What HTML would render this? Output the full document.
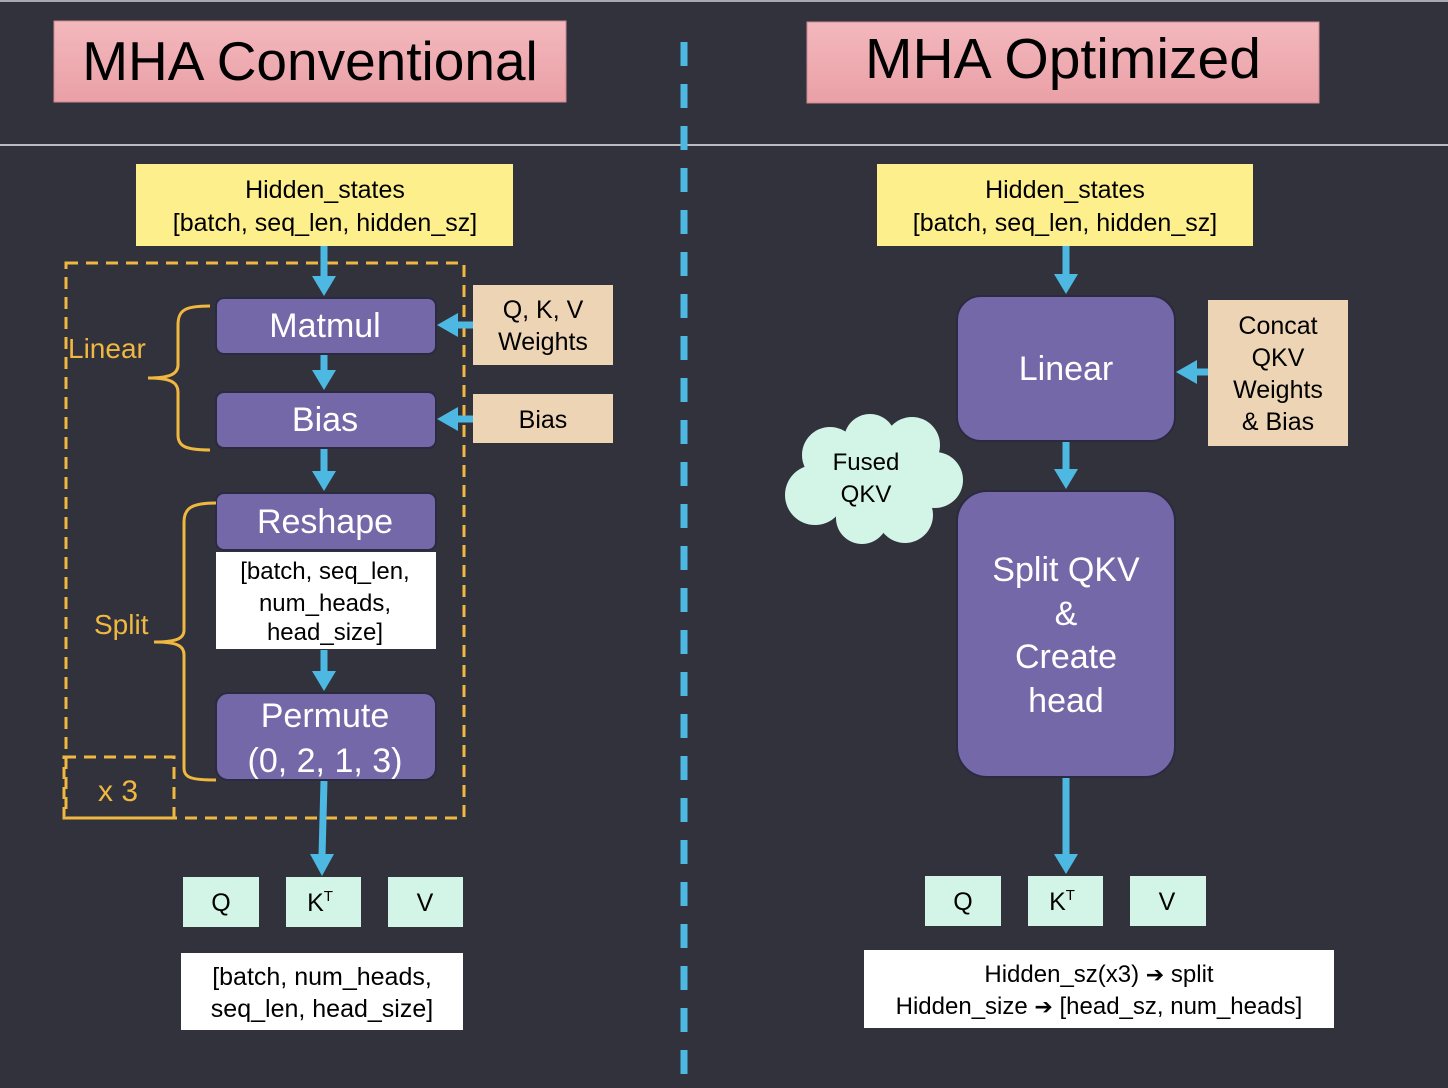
<!DOCTYPE html>
<html><head><meta charset="utf-8"><style>
html,body{margin:0;padding:0;background:#32323c;}
svg{display:block;}
text{font-family:"Liberation Sans",Arial,sans-serif;}
</style></head><body>
<svg width="1448" height="1088" viewBox="0 0 1448 1088" xmlns="http://www.w3.org/2000/svg">
<defs>
<linearGradient id="pk" x1="0" y1="0" x2="0" y2="1"><stop offset="0" stop-color="#f3b8bd"/><stop offset="1" stop-color="#e9a0a6"/></linearGradient>
</defs>
<rect width="1448" height="1088" fill="#32323c"/>
<line x1="0" y1="1" x2="1448" y2="1" stroke="#cfcfd4" stroke-width="1.5"/>
<line x1="0" y1="145" x2="1448" y2="145" stroke="#e8e8ec" stroke-width="1.5"/>
<line x1="684" y1="42" x2="684" y2="1088" stroke="#4db8e2" stroke-width="7" stroke-dasharray="24 18"/>

<!-- titles -->
<rect x="54" y="21" width="512" height="81" fill="url(#pk)" stroke="#c98a90"/>
<text x="310" y="80" font-size="55" text-anchor="middle" fill="#000">MHA Conventional</text>
<rect x="807" y="22" width="512" height="81" fill="url(#pk)" stroke="#c98a90"/>
<text x="1063" y="78" font-size="57" text-anchor="middle" fill="#000">MHA Optimized</text>

<!-- LEFT -->
<rect x="136" y="164" width="377" height="82" fill="#fdef8c"/>
<text x="325" y="198" font-size="25" text-anchor="middle">Hidden_states</text>
<text x="325" y="231" font-size="25" text-anchor="middle">[batch, seq_len, hidden_sz]</text>

<rect x="66" y="263" width="398" height="555" fill="none" stroke="#f0b840" stroke-width="3" stroke-dasharray="12 8"/>
<rect x="64" y="757" width="110" height="61" fill="none" stroke="#f0b840" stroke-width="3" stroke-dasharray="12 8"/>
<text x="118" y="801" font-size="30" text-anchor="middle" fill="#f0b840">x 3</text>

<g stroke="#4db8e2" stroke-width="7" fill="none">
<line x1="324" y1="246" x2="324" y2="278"/>
<line x1="324" y1="355" x2="324" y2="372"/>
<line x1="324" y1="449" x2="324" y2="473"/>
<line x1="324" y1="650" x2="324" y2="673"/>
<line x1="324" y1="781" x2="322" y2="856"/>
<line x1="473" y1="325" x2="455" y2="325"/>
<line x1="473" y1="419" x2="455" y2="419"/>
</g>
<g fill="#4db8e2">
<polygon points="312,276 336,276 324,296"/>
<polygon points="312,370 336,370 324,390"/>
<polygon points="312,471 336,471 324,491"/>
<polygon points="312,671 336,671 324,691"/>
<polygon points="310,854 334,854 322,876"/>
<polygon points="458,313 458,337 437,325"/>
<polygon points="458,407 458,431 437,419"/>
</g>

<g fill="#7468a8" stroke="#2a2a40" stroke-width="2">
<rect x="216" y="298" width="220" height="56" rx="8"/>
<rect x="216" y="392" width="220" height="56" rx="8"/>
<rect x="216" y="493" width="220" height="57" rx="8"/>
<rect x="216" y="693" width="220" height="87" rx="12"/>
</g>
<g fill="#fff" font-size="34" text-anchor="middle">
<text x="325" y="337">Matmul</text>
<text x="325" y="431">Bias</text>
<text x="325" y="533">Reshape</text>
<text x="325" y="727">Permute</text>
<text x="325" y="772">(0, 2, 1, 3)</text>
</g>
<rect x="216" y="552" width="220" height="97" fill="#fff"/>
<g font-size="24" text-anchor="middle">
<text x="325" y="579">[batch, seq_len,</text>
<text x="325" y="611">num_heads,</text>
<text x="325" y="640">head_size]</text>
</g>

<rect x="473" y="285" width="140" height="80" fill="#ecd4b4"/>
<text x="543" y="318" font-size="25" text-anchor="middle">Q, K, V</text>
<text x="543" y="350" font-size="25" text-anchor="middle">Weights</text>
<rect x="473" y="394" width="140" height="49" fill="#ecd4b4"/>
<text x="543" y="428" font-size="25" text-anchor="middle">Bias</text>

<g fill="none" stroke="#f0b840" stroke-width="3">
<path d="M210,306 C185,306 178,310 178,325 L178,365 C178,374 170,378 148,378 C170,378 178,382 178,392 L178,435 C178,446 185,450 210,450"/>
<path d="M216,503 C192,503 184,508 184,522 L184,630 C184,638 178,642 154,642 C178,642 184,646 184,655 L184,768 C184,778 192,780 216,780"/>
</g>
<text x="68" y="358" font-size="28" fill="#f0b840">Linear</text>
<text x="94" y="634" font-size="28" fill="#f0b840">Split</text>

<g fill="#d3f5e8">
<rect x="183" y="877" width="76" height="50"/>
<rect x="286" y="877" width="75" height="50"/>
<rect x="388" y="877" width="75" height="50"/>
</g>
<g font-size="25" text-anchor="middle">
<text x="221" y="911">Q</text>
<text x="320" y="911">K<tspan font-size="15" dy="-10">T</tspan></text>
<text x="425" y="911">V</text>
</g>
<rect x="181" y="953" width="282" height="77" fill="#fff"/>
<text x="322" y="985" font-size="25" text-anchor="middle">[batch, num_heads,</text>
<text x="322" y="1017" font-size="25" text-anchor="middle">seq_len, head_size]</text>

<!-- RIGHT -->
<rect x="877" y="164" width="376" height="82" fill="#fdef8c"/>
<text x="1065" y="198" font-size="25" text-anchor="middle">Hidden_states</text>
<text x="1065" y="231" font-size="25" text-anchor="middle">[batch, seq_len, hidden_sz]</text>

<g stroke="#4db8e2" stroke-width="7" fill="none">
<line x1="1066" y1="246" x2="1066" y2="276"/>
<line x1="1066" y1="442" x2="1066" y2="471"/>
<line x1="1066" y1="778" x2="1066" y2="856"/>
<line x1="1208" y1="372" x2="1194" y2="372"/>
</g>
<g fill="#4db8e2">
<polygon points="1054,274 1078,274 1066,294"/>
<polygon points="1054,469 1078,469 1066,489"/>
<polygon points="1054,854 1078,854 1066,874"/>
<polygon points="1197,360 1197,384 1176,372"/>
</g>
<g fill="#7468a8" stroke="#2a2a40" stroke-width="2">
<rect x="957" y="296" width="218" height="145" rx="24"/>
<rect x="957" y="491" width="218" height="286" rx="30"/>
</g>
<g fill="#fff" font-size="34" text-anchor="middle">
<text x="1066" y="380">Linear</text>
<text x="1066" y="581">Split QKV</text>
<text x="1066" y="625">&amp;</text>
<text x="1066" y="668">Create</text>
<text x="1066" y="712">head</text>
</g>
<rect x="1208" y="300" width="140" height="146" fill="#ecd4b4"/>
<g font-size="25" text-anchor="middle">
<text x="1278" y="334">Concat</text>
<text x="1278" y="366">QKV</text>
<text x="1278" y="398">Weights</text>
<text x="1278" y="430">&amp; Bias</text>
</g>

<g fill="#d3f5e8">
<circle cx="830" cy="455" r="28"/><circle cx="870" cy="440" r="26"/><circle cx="912" cy="445" r="28"/>
<circle cx="935" cy="480" r="28"/><circle cx="905" cy="515" r="28"/><circle cx="862" cy="518" r="26"/>
<circle cx="815" cy="495" r="30"/><circle cx="870" cy="480" r="40"/>
</g>
<text x="866" y="470" font-size="24" text-anchor="middle">Fused</text>
<text x="866" y="502" font-size="24" text-anchor="middle">QKV</text>

<g fill="#d3f5e8">
<rect x="925" y="876" width="76" height="50"/>
<rect x="1028" y="876" width="75" height="50"/>
<rect x="1130" y="876" width="76" height="50"/>
</g>
<g font-size="25" text-anchor="middle">
<text x="963" y="910">Q</text>
<text x="1062" y="910">K<tspan font-size="15" dy="-10">T</tspan></text>
<text x="1167" y="910">V</text>
</g>
<rect x="864" y="950" width="470" height="78" fill="#fff"/>
<text x="1099" y="982" font-size="24" text-anchor="middle">Hidden_sz(x3) <tspan font-family="DejaVu Sans" font-size="22">➔</tspan> split</text>
<text x="1099" y="1014" font-size="24" text-anchor="middle">Hidden_size <tspan font-family="DejaVu Sans" font-size="22">➔</tspan> [head_sz, num_heads]</text>
</svg>
</body></html>
